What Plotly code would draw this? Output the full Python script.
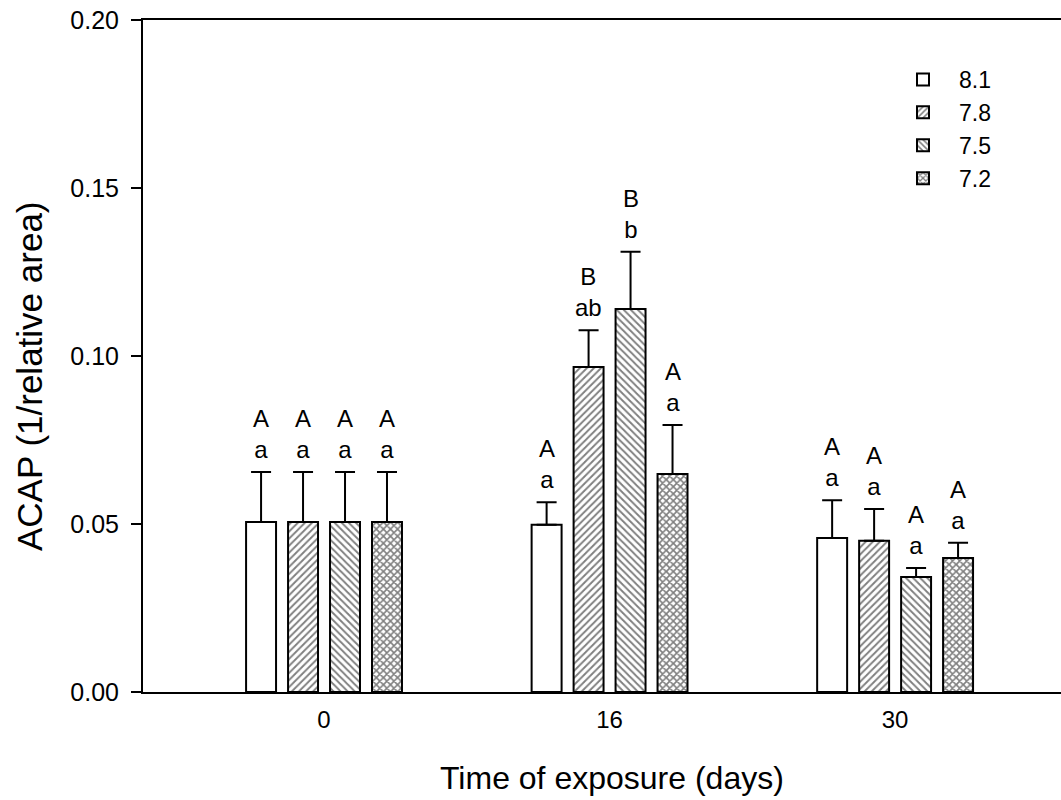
import plotly.graph_objects as go

days = ["0", "16", "30"]
ph_levels = ["8.1", "7.8", "7.5", "7.2"]

means = {
    "8.1": [0.0506, 0.0498, 0.0458],
    "7.8": [0.0506, 0.0967, 0.0450],
    "7.5": [0.0506, 0.1140, 0.0342],
    "7.2": [0.0506, 0.0649, 0.0399],
}
errors = {
    "8.1": [0.0149, 0.0067, 0.0113],
    "7.8": [0.0149, 0.0110, 0.0095],
    "7.5": [0.0149, 0.0170, 0.0027],
    "7.2": [0.0149, 0.0146, 0.0045],
}
upper_letters = {
    "8.1": ["A", "A", "A"],
    "7.8": ["A", "B", "A"],
    "7.5": ["A", "B", "A"],
    "7.2": ["A", "A", "A"],
}
lower_letters = {
    "8.1": ["a", "a", "a"],
    "7.8": ["a", "ab", "a"],
    "7.5": ["a", "b", "a"],
    "7.2": ["a", "a", "a"],
}
patterns = {"8.1": "", "7.8": "/", "7.5": "\\", "7.2": "x"}
solidities = {"8.1": 0.3, "7.8": 0.38, "7.5": 0.38, "7.2": 0.55}

FONT = "Arial, Liberation Sans, sans-serif"
BARGAP = 0.412
BARGROUPGAP = 0.286

fig = go.Figure()
for ph in ph_levels:
    fig.add_trace(go.Bar(
        name=ph,
        x=days,
        y=means[ph],
        marker=dict(
            color="white",
            line=dict(color="black", width=2),
            pattern=dict(shape=patterns[ph], fgcolor="black", bgcolor="white",
                         size=5, solidity=solidities[ph]),
        ),
        error_y=dict(type="data", symmetric=False, array=errors[ph],
                     arrayminus=[0] * len(days), color="black",
                     thickness=2, width=10),
    ))

# significance letters above each error bar
slot = (1 - BARGAP) / len(ph_levels)
annotations = []
for i, ph in enumerate(ph_levels):
    off = (i - (len(ph_levels) - 1) / 2) * slot
    for j, d in enumerate(days):
        annotations.append(dict(
            x=j + off, y=means[ph][j] + errors[ph][j], xref="x", yref="y",
            text=f"{upper_letters[ph][j]}<br>{lower_letters[ph][j]}",
            showarrow=False, yanchor="bottom", xanchor="center", yshift=7,
            font=dict(family=FONT, size=24, color="black"),
        ))

annotations.append(dict(
    x=(29 - 143) / 918, y=(692 - 376) / 672, xref="paper", yref="paper",
    text="ACAP (1/relative area)", textangle=-90, showarrow=False,
    xanchor="center", yanchor="middle",
    font=dict(family=FONT, size=35, color="black"),
))
annotations.append(dict(
    x=(612 - 143) / 918, y=(692 - 778) / 672, xref="paper", yref="paper",
    text="Time of exposure (days)", showarrow=False,
    xanchor="center", yanchor="middle",
    font=dict(family=FONT, size=32, color="black"),
))

fig.update_layout(
    width=1061, height=800,
    margin=dict(l=143, r=0, t=20, b=108, autoexpand=False),
    paper_bgcolor="white", plot_bgcolor="white",
    barmode="group", bargap=BARGAP, bargroupgap=BARGROUPGAP,
    font=dict(family=FONT, color="black"),
    annotations=annotations,
    legend=dict(x=(887 - 143) / 918, y=(692 - 58) / 672, xanchor="left", yanchor="top",
                bgcolor="rgba(0,0,0,0)", font=dict(family=FONT, size=23, color="black"),
                itemwidth=62, tracegroupgap=0),
    showlegend=True,
)
fig.update_xaxes(
    type="category", range=[-0.634, 2.581],
    showline=True, linecolor="black", linewidth=2, mirror=True,
    ticks="", showgrid=False, zeroline=False,
    tickfont=dict(family=FONT, size=24, color="black"),
    ticklabelstandoff=5,
)
fig.update_yaxes(
    range=[0, 0.2], dtick=0.05, tickformat=".2f",
    showline=True, linecolor="black", linewidth=2, mirror=False,
    ticks="outside", ticklen=10, tickwidth=2, tickcolor="black",
    showgrid=False, zeroline=False,
    tickfont=dict(family=FONT, size=25, color="black"),
    ticklabelstandoff=7, ticklabeloverflow="allow",
)

fig.write_html("out.html", config={"displayModeBar": False},
               post_script="document.body.style.margin='0px';")
